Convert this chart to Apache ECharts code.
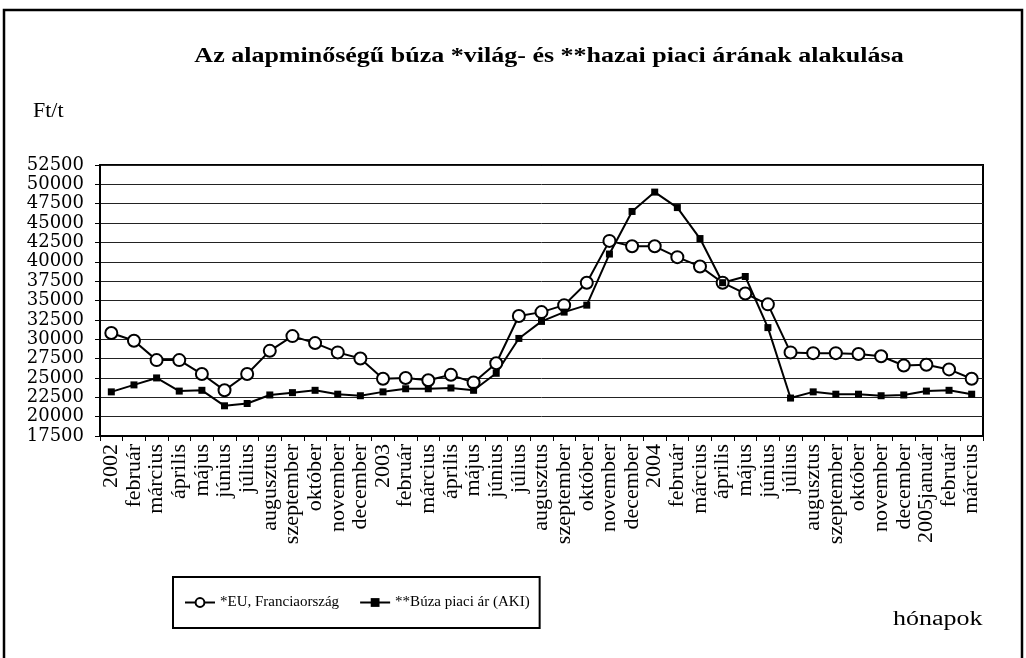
<!DOCTYPE html>
<html>
<head>
<meta charset="utf-8">
<script src="https://cdn.jsdelivr.net/npm/echarts@6/dist/echarts.min.js"></script>
<style>
  html, body { margin: 0; padding: 0; background: #fff; }
  #chart { width: 1026px; height: 658px; }
</style>
</head>
<body>
<div id="chart"></div>
<script>
// hónapok 2002 jan - 2005 márc
const months = ['2002', 'február', 'március', 'április', 'május', 'június', 'július', 'augusztus', 'szeptember', 'október', 'november', 'december',
  '2003', 'február', 'március', 'április', 'május', 'június', 'július', 'augusztus', 'szeptember', 'október', 'november', 'december',
  '2004', 'február', 'március', 'április', 'május', 'június', 'július', 'augusztus', 'szeptember', 'október', 'november', 'december',
  '2005január', 'február', 'március']

// *EU, Franciaország (Ft/t)
const euFrance = [30800, 29800, 27300, 27300, 25500, 23400, 25500, 28500, 30400, 29500, 28300, 27500,
  24900, 25000, 24700, 25400, 24400, 26900, 33000, 33500, 34400, 37300, 42700, 42000,
  42000, 40600, 39400, 37300, 35900, 34500, 28300, 28200, 28200, 28100, 27800, 26600,
  26700, 26100, 24900]

// **Búza piaci ár (AKI) (Ft/t)
const akiPrice = [23200, 24100, 25000, 23300, 23400, 21400, 21700, 22800, 23100, 23400, 22900, 22700,
  23200, 23600, 23600, 23700, 23400, 25600, 30100, 32300, 33500, 34400, 41000, 46500,
  49000, 47000, 43000, 37300, 38100, 31500, 22400, 23200, 22900, 22900, 22700, 22800,
  23300, 23400, 22900]

const yMin = 17500
const yMax = 52500
const yStep = 2500

const serif = '"Liberation Serif", "Times New Roman", serif'

const myChart = echarts.init(document.getElementById('chart'))

const option = {
  animation: false,
  backgroundColor: '#fff',
  graphic: [
    {
      type: 'rect',
      shape: { x: 4, y: 10, width: 1018, height: 700 },
      style: { fill: 'none', stroke: '#000', lineWidth: 2.5 }
    },
    {
      type: 'text',
      x: 549,
      y: 57,
      scaleX: 1.3,
      style: {
        text: 'Az alapminőségű búza *világ- és **hazai piaci árának alakulása',
        fontFamily: serif, fontSize: 20, fontWeight: 'bold', fill: '#000',
        align: 'center', verticalAlign: 'middle',
        textAlign: 'center', textVerticalAlign: 'middle'
      }
    },
    {
      type: 'text',
      x: 33,
      y: 112,
      scaleX: 1.1,
      style: {
        text: 'Ft/t', fontFamily: serif, fontSize: 20, fill: '#000',
        align: 'left', verticalAlign: 'middle',
        textAlign: 'left', textVerticalAlign: 'middle'
      }
    },
    {
      type: 'text',
      x: 893,
      y: 620,
      scaleX: 1.3,
      style: {
        text: 'hónapok', fontFamily: serif, fontSize: 20, fill: '#000',
        align: 'left', verticalAlign: 'middle',
        textAlign: 'left', textVerticalAlign: 'middle'
      }
    }
  ],
  legend: {
    left: 173,
    top: 577,
    padding: [18, 10, 18, 11],
    itemGap: 20,
    itemWidth: 30,
    itemHeight: 11,
    borderColor: '#000',
    borderWidth: 2,
    textStyle: { fontFamily: serif, fontSize: 15, color: '#000' },
    data: ['*EU, Franciaország', '**Búza piaci ár (AKI)']
  },
  grid: {
    left: 100,
    right: 43,
    top: 165,
    bottom: 222,
    show: true,
    borderColor: '#000',
    borderWidth: 2
  },
  xAxis: {
    type: 'category',
    data: months,
    boundaryGap: true,
    axisLine: { lineStyle: { color: '#000', width: 2 } },
    axisTick: { show: true, length: 5, lineStyle: { color: '#000' } },
    axisLabel: {
      interval: 0,
      rotate: 90,
      margin: 8,
      color: '#000',
      fontFamily: serif,
      fontSize: 22
    }
  },
  yAxis: {
    type: 'value',
    min: yMin,
    max: yMax,
    interval: yStep,
    axisLine: { show: true, lineStyle: { color: '#000', width: 2 } },
    axisTick: { show: true, length: 5, lineStyle: { color: '#000' } },
    splitLine: { lineStyle: { color: '#222', width: 1 } },
    axisLabel: {
      margin: 16,
      color: '#000',
      fontFamily: '"DejaVu Serif", serif',
      fontSize: 18,
      hideOverlap: false,
      showMinLabel: true,
      showMaxLabel: true,
      formatter: value => String(value)
    }
  },
  series: [
    {
      name: '*EU, Franciaország',
      type: 'line',
      data: euFrance,
      symbol: 'circle',
      symbolSize: 12,
      lineStyle: { color: '#000', width: 2 },
      itemStyle: { color: '#fff', borderColor: '#000', borderWidth: 2 }
    },
    {
      name: '**Búza piaci ár (AKI)',
      type: 'line',
      data: akiPrice,
      symbol: 'rect',
      symbolSize: 7,
      lineStyle: { color: '#000', width: 2 },
      itemStyle: { color: '#000' }
    }
  ]
}

option && myChart.setOption(option)
</script>
</body>
</html>
